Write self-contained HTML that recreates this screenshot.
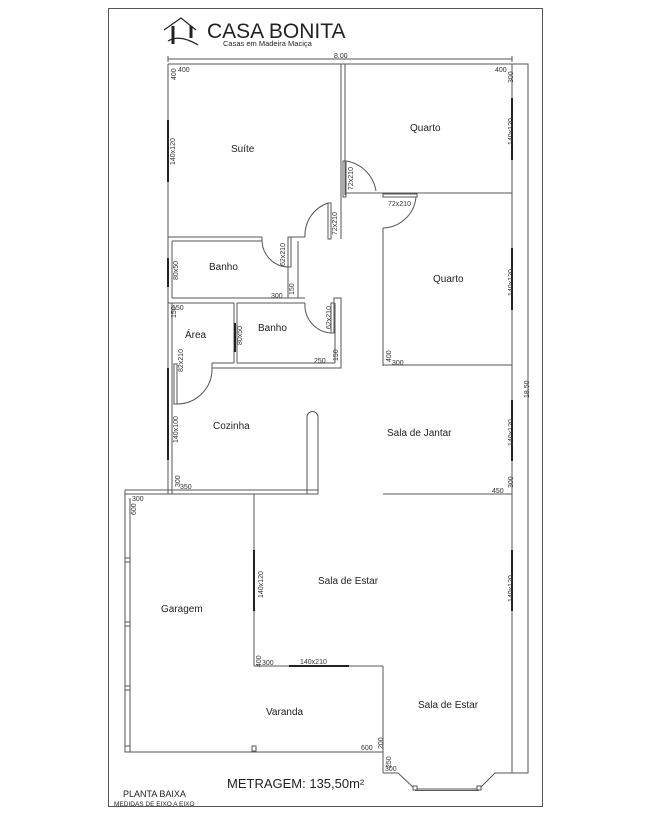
<!DOCTYPE html>
<html><head><meta charset="utf-8"><style>
html,body{margin:0;padding:0;background:#fff;}
svg{display:block;}
text{font-family:"Liberation Sans",sans-serif;fill:#222;}
.d{font-size:7px;fill:#333;}
.r{font-size:10px;}
</style></head><body>
<svg width="652" height="817" viewBox="0 0 652 817" xmlns="http://www.w3.org/2000/svg">
<g fill="none" stroke="#555" stroke-width="1">
<rect x="108.5" y="8.5" width="434" height="798"/>
<!-- top dim -->
<line x1="168" y1="59" x2="512" y2="59"/>
<line x1="168" y1="56" x2="168" y2="62"/><line x1="512" y1="56" x2="512" y2="62"/>
<!-- outer walls -->
<polyline points="168,64 528,64 528,773 512,773"/>
<line x1="168" y1="64" x2="168" y2="494"/>
<line x1="512" y1="64" x2="512" y2="773"/>
<!-- suite/quarto divider -->
<line x1="341" y1="64" x2="341" y2="239"/>
<line x1="345" y1="64" x2="345" y2="195"/>
<line x1="345" y1="193" x2="512" y2="193"/>
<line x1="383" y1="193" x2="383" y2="196"/>
<!-- quarto2 -->
<line x1="383" y1="228" x2="383" y2="366"/>
<line x1="383" y1="365" x2="512" y2="365"/>
<line x1="383" y1="494" x2="512" y2="494"/>
<!-- banho1 -->
<line x1="168" y1="237" x2="262" y2="237"/>
<line x1="172" y1="241" x2="262" y2="241"/>
<line x1="172" y1="241" x2="172" y2="298"/>
<line x1="262" y1="237" x2="262" y2="241"/>
<polyline points="305,237 288,237 288,298"/>
<line x1="298" y1="241" x2="298" y2="298"/>
<line x1="172" y1="298" x2="298" y2="298"/>
<line x1="298" y1="298" x2="305" y2="298"/>
<line x1="168" y1="303" x2="234" y2="303"/>
<line x1="237" y1="303" x2="305" y2="303"/>
<!-- banho2 -->
<polyline points="334,303 334,298 341,298 341,368 212,368"/>
<line x1="335" y1="303" x2="335" y2="363"/>
<line x1="237" y1="363" x2="335" y2="363"/>
<line x1="234" y1="303" x2="234" y2="363"/>
<line x1="237" y1="303" x2="237" y2="363"/>
<line x1="212" y1="363" x2="234" y2="363"/>
<line x1="212" y1="363" x2="212" y2="368"/>
<!-- kitchen -->
<line x1="172" y1="303" x2="172" y2="494"/>
<polyline points="125,494 125,752 383,752"/>
<line x1="130" y1="498" x2="130" y2="752"/>
<line x1="125" y1="490" x2="318" y2="490"/>
<line x1="125" y1="494" x2="318" y2="494"/>
<line x1="125" y1="490" x2="125" y2="494"/>
<path d="M307,494 L307,417 A5.5,5.5 0 0 1 318,417 L318,494"/>
<!-- interior -->
<line x1="254" y1="494" x2="254" y2="666"/>
<line x1="254" y1="666" x2="383" y2="666"/>
<line x1="383" y1="666" x2="383" y2="773"/>
<polyline points="383,773 398,773 415,789 479,789 495,773 512,773"/>
<line x1="415" y1="790.5" x2="479" y2="790.5"/>
<rect x="413" y="786" width="4" height="4" fill="#fff"/>
<rect x="477" y="786" width="4" height="4" fill="#fff"/>
<rect x="252" y="746" width="4" height="5"/>
<line x1="125" y1="558" x2="130" y2="558"/><line x1="125" y1="562" x2="130" y2="562"/>
<line x1="125" y1="622" x2="130" y2="622"/><line x1="125" y1="626" x2="130" y2="626"/>
<line x1="125" y1="686" x2="130" y2="686"/><line x1="125" y1="690" x2="130" y2="690"/>
<line x1="125" y1="746" x2="130" y2="746"/>
<!-- doors -->
<rect x="343" y="161" width="3" height="36"/>
<path d="M346,161 A36,36 0 0 1 376,191"/>
<rect x="383" y="194" width="34" height="3"/>
<path d="M383,228 A34,34 0 0 0 416,197"/>
<rect x="328" y="203" width="3" height="36"/>
<path d="M328,203 A34,34 0 0 0 305,237"/>
<rect x="288" y="237" width="3" height="30"/>
<path d="M288,267 A27,27 0 0 1 262,241"/>
<rect x="331" y="303" width="3" height="30"/>
<path d="M331,333 A28,28 0 0 1 305,303"/>
<rect x="174" y="364" width="3" height="40"/>
<path d="M177,404 A35,35 0 0 0 212,368"/>
</g>
<!-- windows -->
<g stroke="#222" stroke-width="2">
<line x1="168" y1="120" x2="168" y2="182"/>
<line x1="512" y1="98" x2="512" y2="160"/>
<line x1="512" y1="248" x2="512" y2="310"/>
<line x1="512" y1="400" x2="512" y2="461"/>
<line x1="512" y1="550" x2="512" y2="611"/>
<line x1="168" y1="258" x2="168" y2="287"/>
<line x1="235" y1="323" x2="235" y2="352"/>
<line x1="168" y1="368" x2="168" y2="398"/>
<line x1="168" y1="398" x2="168" y2="460"/>
<line x1="254" y1="550" x2="254" y2="611"/>
<line x1="289" y1="666" x2="349" y2="666"/>
</g>
<!-- logo -->
<g fill="none" stroke="#222" stroke-width="1.2">
<path d="M164,30 L181,18 L196,30"/>
<path d="M168,41 Q180,34 198,45"/>
<line x1="173" y1="26" x2="173" y2="44" stroke-width="3"/>
<line x1="191" y1="26" x2="191" y2="38" stroke-width="3"/>
</g>
<text x="207" y="38" style="font-size:21px">CASA BONITA</text>
<text x="223" y="46" style="font-size:7.5px">Casas em Madeira Maciça</text>
<text x="334" y="58" class="d">8.00</text>
<text x="495" y="72" class="d">400</text>
<text x="178" y="72" class="d">400</text>
<g class="d">
<text transform="translate(176,80) rotate(-90)" class="d">400</text>
<text transform="translate(513,83) rotate(-90)" class="d">300</text>
<text transform="translate(175,165) rotate(-90)" class="d">140x120</text>
<text transform="translate(513,145) rotate(-90)" class="d">140x120</text>
<text transform="translate(353,190) rotate(-90)" class="d">72x210</text>
<text transform="translate(337,235) rotate(-90)" class="d">72x210</text>
<text transform="translate(285,266) rotate(-90)" class="d">62x210</text>
<text transform="translate(331,329) rotate(-90)" class="d">62x210</text>
<text transform="translate(178,280) rotate(-90)" class="d">80x50</text>
<text transform="translate(242,345) rotate(-90)" class="d">80x50</text>
<text transform="translate(183,372) rotate(-90)" class="d">82x210</text>
<text transform="translate(178,443) rotate(-90)" class="d">140x100</text>
<text transform="translate(513,296) rotate(-90)" class="d">140x120</text>
<text transform="translate(513,446) rotate(-90)" class="d">140x120</text>
<text transform="translate(529,398) rotate(-90)" class="d">18.50</text>
<text transform="translate(294,295) rotate(-90)" class="d">150</text>
<text transform="translate(176,318) rotate(-90)" class="d">150</text>
<text transform="translate(338,361) rotate(-90)" class="d">150</text>
<text transform="translate(391,362) rotate(-90)" class="d">400</text>
<text transform="translate(180,487) rotate(-90)" class="d">300</text>
<text transform="translate(513,488) rotate(-90)" class="d">300</text>
<text transform="translate(136,515) rotate(-90)" class="d">600</text>
<text transform="translate(261,667) rotate(-90)" class="d">400</text>
<text transform="translate(263,598) rotate(-90)" class="d">140x120</text>
<text transform="translate(513,602) rotate(-90)" class="d">140x120</text>
<text transform="translate(383,749) rotate(-90)" class="d">200</text>
<text transform="translate(391,768) rotate(-90)" class="d">250</text>
</g>
<text x="388" y="206" class="d">72x210</text>
<text x="271" y="298" class="d">300</text>
<text x="172" y="310" class="d">150</text>
<text x="314" y="363" class="d">250</text>
<text x="392" y="365" class="d">300</text>
<text x="180" y="489" class="d">350</text>
<text x="132" y="501" class="d">300</text>
<text x="492" y="493" class="d">450</text>
<text x="262" y="665" class="d">300</text>
<text x="300" y="664" class="d">140x210</text>
<text x="361" y="750" class="d">600</text>
<text x="385" y="771" class="d">300</text>
<g class="r">
<text x="231" y="152" class="r">Suíte</text>
<text x="410" y="131" class="r">Quarto</text>
<text x="209" y="270" class="r">Banho</text>
<text x="258" y="331" class="r">Banho</text>
<text x="185" y="338" class="r">Área</text>
<text x="433" y="282" class="r">Quarto</text>
<text x="213" y="429" class="r">Cozinha</text>
<text x="387" y="436" class="r">Sala de Jantar</text>
<text x="318" y="584" class="r">Sala de Estar</text>
<text x="161" y="612" class="r">Garagem</text>
<text x="266" y="715" class="r">Varanda</text>
<text x="418" y="708" class="r">Sala de Estar</text>
</g>
<text x="227" y="788" style="font-size:13px">METRAGEM: 135,50m²</text>
<text x="123" y="797" style="font-size:9px">PLANTA BAIXA</text>
<text x="114" y="806" style="font-size:6.5px">MEDIDAS DE EIXO A EIXO</text>
</svg>
</body></html>
